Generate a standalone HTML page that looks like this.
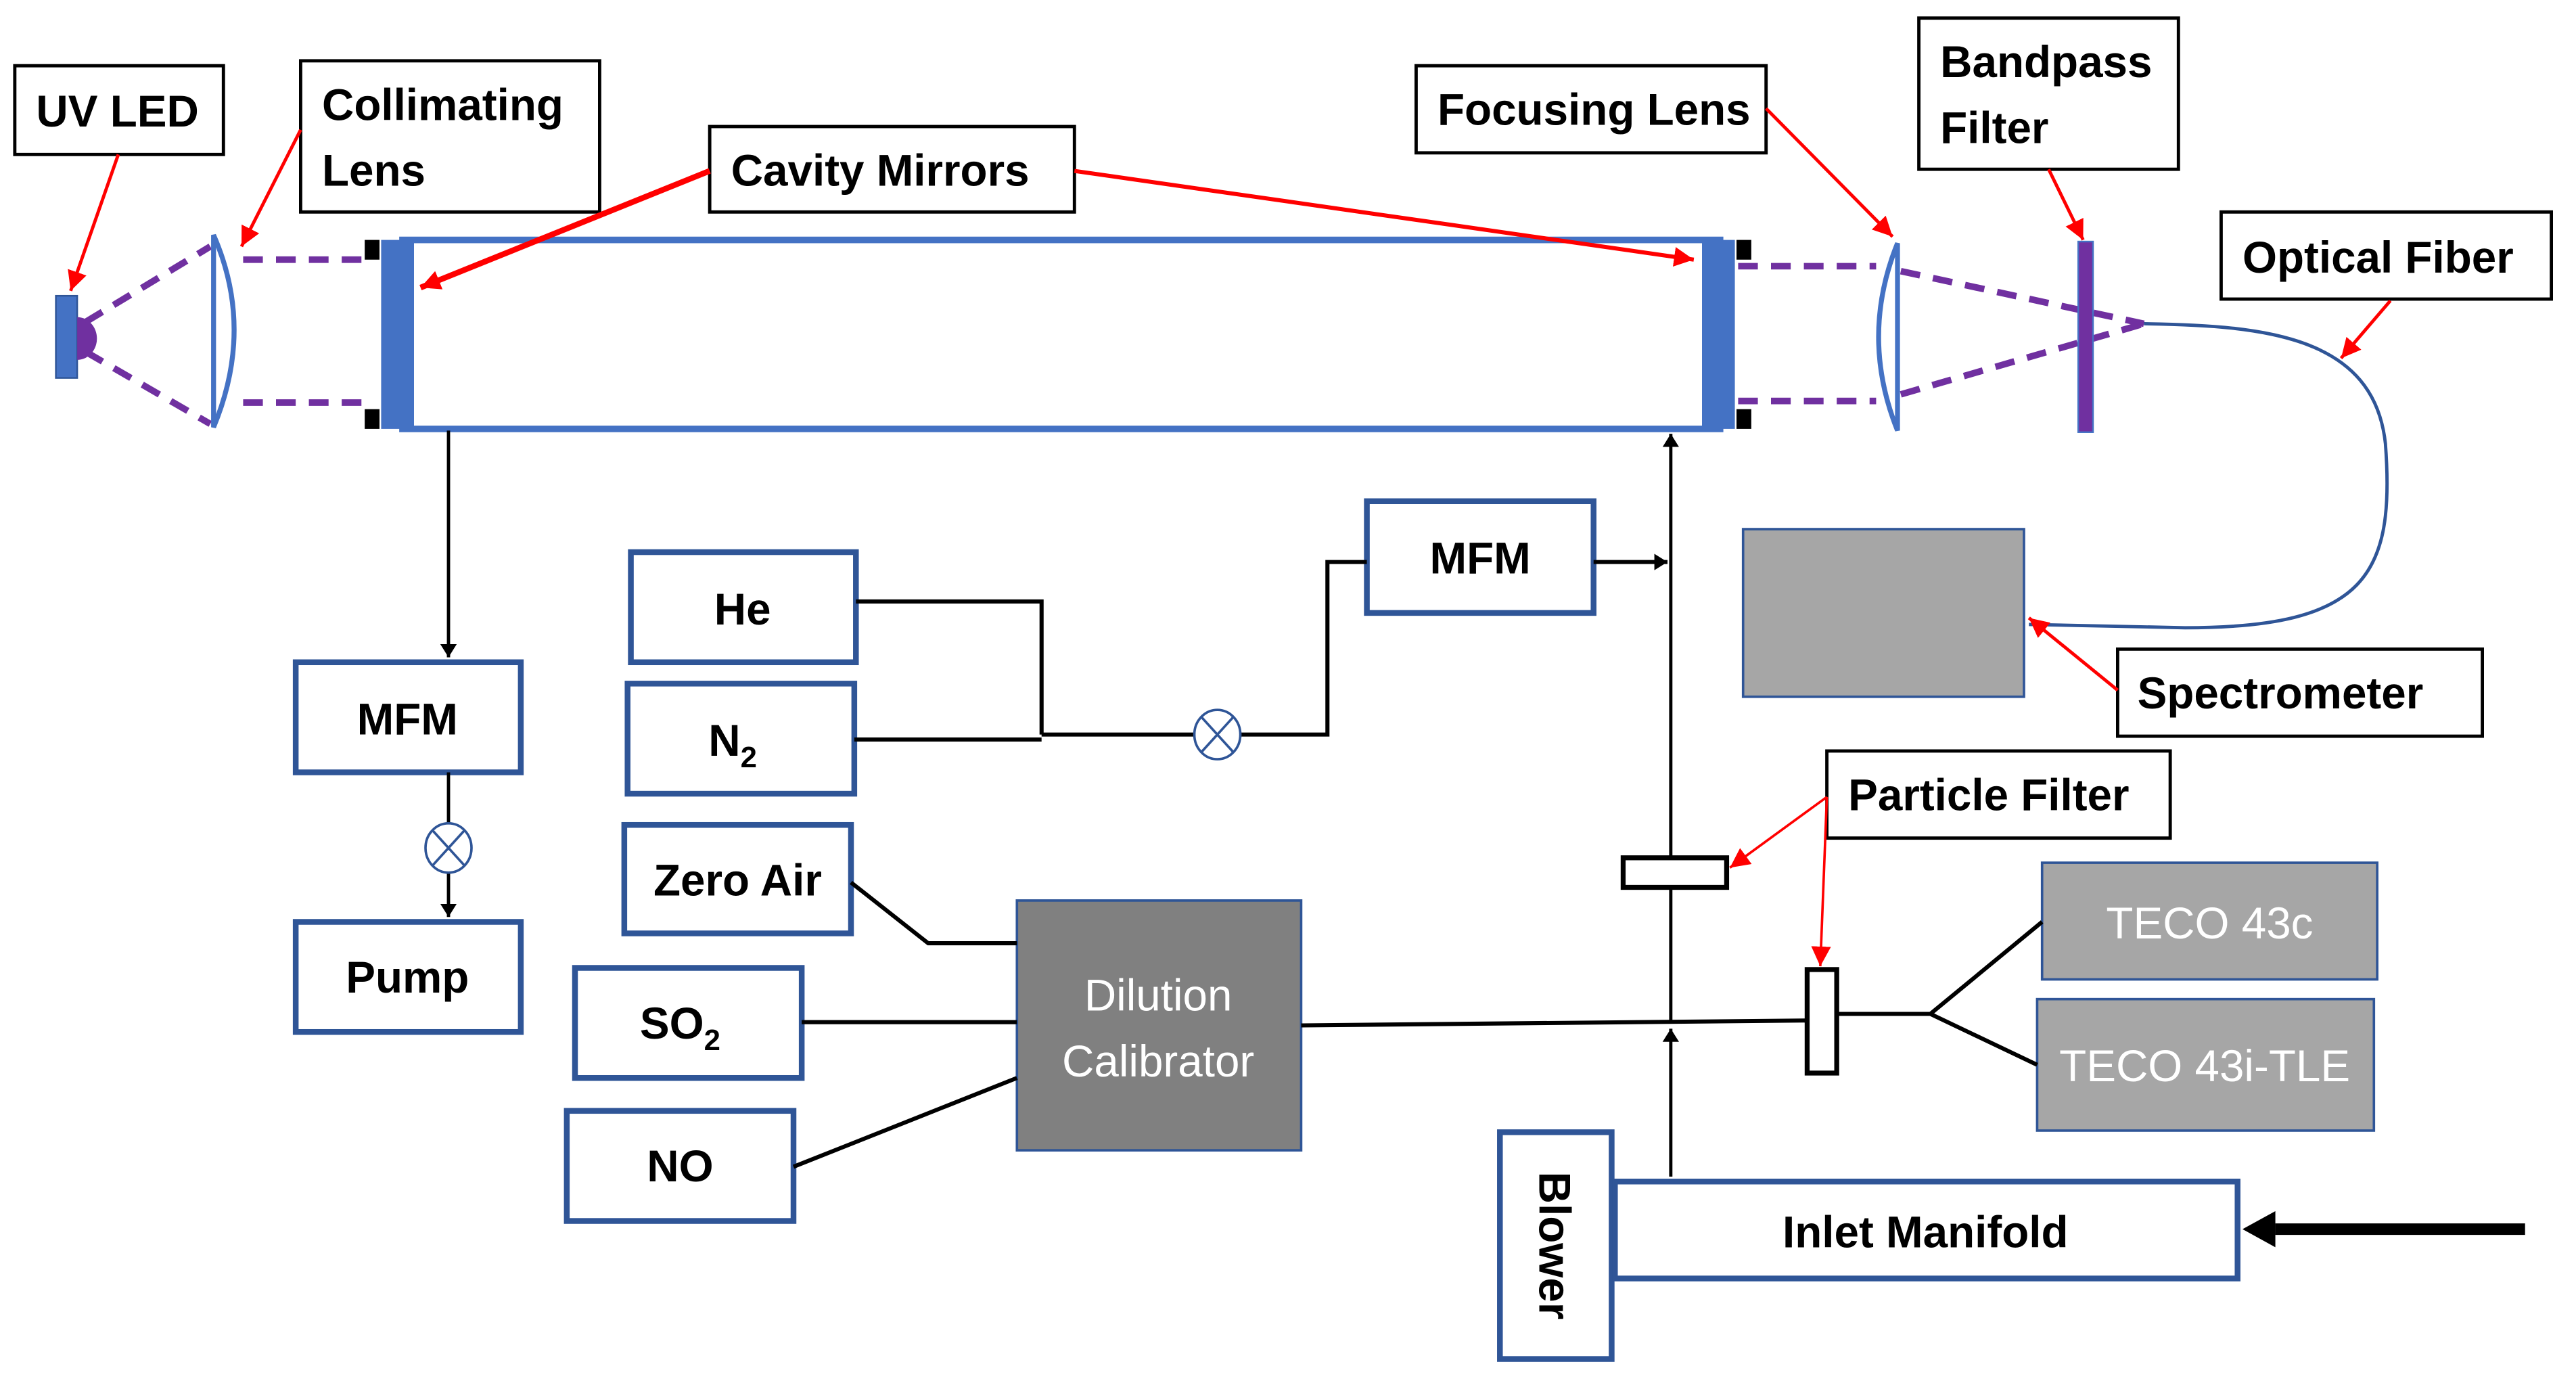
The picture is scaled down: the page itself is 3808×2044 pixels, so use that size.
<!DOCTYPE html>
<html><head><meta charset="utf-8"><style>html,body{margin:0;padding:0;background:#fff}svg{display:block}</style></head>
<body>
<svg width="3808" height="2044" viewBox="0 0 1568 841.6" preserveAspectRatio="none" xmlns="http://www.w3.org/2000/svg" font-family="Liberation Sans, sans-serif">
<defs>
<marker id="ar" markerWidth="6" markerHeight="6" refX="5" refY="3" orient="auto" markerUnits="userSpaceOnUse" viewBox="0 0 6 6"><path d="M0,0 L6,3 L0,6z" fill="red"/></marker>
<marker id="arb" markerWidth="12" markerHeight="12" refX="10" refY="5" orient="auto" markerUnits="userSpaceOnUse" viewBox="0 0 10 10"><path d="M0,0 L10,5 L0,10z" fill="red"/></marker>
<marker id="ak" markerWidth="8" markerHeight="10" refX="8" refY="5" orient="auto" markerUnits="userSpaceOnUse" viewBox="0 0 8 10"><path d="M0,0 L8,5 L0,10z" fill="#000"/></marker>
</defs>
<g fill="#fff" stroke="#000" stroke-width="2">
<rect x="9" y="40" width="127" height="54"/>
<rect x="183" y="37" width="182" height="92"/>
<rect x="432" y="77" width="222" height="52"/>
<rect x="862" y="40" width="213" height="53"/>
<rect x="1168" y="11" width="158" height="92"/>
<rect x="1352" y="129" width="201" height="53"/>
<rect x="1289" y="395" width="222" height="53"/>
<rect x="1112" y="457" width="209" height="53"/>
</g>
<g font-weight="bold" font-size="27" fill="#000">
<text x="22" y="77">UV LED</text>
<text x="196" y="73">Collimating</text><text x="196" y="113">Lens</text>
<text x="445" y="113">Cavity Mirrors</text>
<text x="875" y="76">Focusing Lens</text>
<text x="1181" y="47">Bandpass</text><text x="1181" y="87">Filter</text>
<text x="1365" y="166">Optical Fiber</text>
<text x="1301" y="431">Spectrometer</text>
<text x="1125" y="493">Particle Filter</text>
</g>
<!-- cavity -->
<rect x="245" y="146" width="802" height="115" fill="#fff" stroke="#4472c4" stroke-width="4"/>
<rect x="232" y="146" width="20" height="115" fill="#4472c4"/>
<rect x="1036" y="146" width="20" height="115" fill="#4472c4"/>
<g fill="#000"><rect x="222" y="146" width="9" height="12"/><rect x="222" y="249" width="9" height="12"/><rect x="1057" y="146" width="9" height="12"/><rect x="1057" y="249" width="9" height="12"/></g>
<!-- LED -->
<rect x="34" y="180" width="13" height="50" fill="#4472c4" stroke="#2f5597"/>
<path d="M47,193 A12,13 0 0 1 47,219 Z" fill="#7030a0"/>
<g stroke="#7030a0" stroke-width="4" stroke-dasharray="12,8" fill="none">
<path d="M52,196 L128,150"/><path d="M52,214 L128,258"/>
<path d="M148,158 L228,158"/><path d="M148,245 L228,245"/>
<path d="M1058,162 L1142,162"/><path d="M1058,244 L1142,244"/>
<path d="M1157,165 L1305,197"/><path d="M1157,240 L1305,197"/>
</g>
<path d="M130,143 Q155,200 130,260 Z" fill="#fff" stroke="#4472c4" stroke-width="3"/>
<path d="M1155,148 Q1132,205 1155,262 Z" fill="#fff" stroke="#4472c4" stroke-width="3"/>
<rect x="1265" y="147" width="9" height="116" fill="#7030a0" stroke="#4472c4"/>
<path d="M1305,197 C1380,198 1445,205 1452,270 C1458,350 1440,382 1330,382 L1235,380" fill="none" stroke="#2f5597" stroke-width="2"/>
<rect x="1061" y="322" width="171" height="102" fill="#a6a6a6" stroke="#2f5597" stroke-width="1.5"/>
<!-- flow boxes -->
<g fill="#fff" stroke="#2f5597" stroke-width="3.5">
<rect x="832" y="305" width="138" height="68"/>
<rect x="384" y="336" width="137" height="67"/>
<rect x="382" y="416" width="138" height="67"/>
<rect x="180" y="403" width="137" height="67"/>
<rect x="180" y="561" width="137" height="67"/>
<rect x="380" y="502" width="138" height="66"/>
<rect x="350" y="589" width="138" height="67"/>
<rect x="345" y="676" width="138" height="67"/>
<rect x="913" y="689" width="68" height="138"/>
<rect x="983" y="719" width="379" height="59"/>
</g>
<rect x="619" y="548" width="173" height="152" fill="#808080" stroke="#2f5597" stroke-width="1.5"/>
<rect x="1243" y="525" width="204" height="71" fill="#a6a6a6" stroke="#2f5597" stroke-width="1.5"/>
<rect x="1240" y="608" width="205" height="80" fill="#a6a6a6" stroke="#2f5597" stroke-width="1.5"/>
<g font-weight="bold" font-size="27" fill="#000" text-anchor="middle">
<text x="901" y="349">MFM</text>
<text x="452" y="380">He</text>
<text x="446" y="460">N<tspan font-size="18" dy="7">2</tspan></text>
<text x="248" y="447">MFM</text>
<text x="248" y="604">Pump</text>
<text x="449" y="545">Zero Air</text>
<text x="414" y="632">SO<tspan font-size="18" dy="7">2</tspan></text>
<text x="414" y="719">NO</text>
<text x="1172" y="759">Inlet Manifold</text>
<text transform="translate(937,758) rotate(90)">Blower</text>
</g>
<g font-size="27" fill="#fff" text-anchor="middle">
<text x="705" y="615">Dilution</text><text x="705" y="655">Calibrator</text>
<text x="1345" y="571">TECO 43c</text>
<text x="1342" y="658">TECO 43i-TLE</text>
</g>
<!-- lines -->
<g stroke="#000" stroke-width="2.5" fill="none">
<path d="M970,342 L1015,342" marker-end="url(#ak)"/>
<path d="M1017,716 L1017,626" marker-end="url(#ak)" stroke-width="2"/>
<path d="M1017,621 L1017,264" marker-end="url(#ak)" stroke-width="2"/>
<path d="M521,366 L634,366 L634,447"/>
<path d="M520,450 L634,450"/>
<path d="M634,447 L727,447"/><path d="M755,447 L808,447 L808,342 L832,342"/>
<path d="M273,262 L273,400" marker-end="url(#ak)" stroke-width="2"/>
<path d="M273,470 L273,502" stroke-width="2"/>
<path d="M273,530 L273,558" marker-end="url(#ak)" stroke-width="2"/>
<path d="M518,537 L565,574 L619,574"/>
<path d="M488,622 L619,622"/>
<path d="M483,710 L619,656"/>
<path d="M792,624 L1100,621"/>
<path d="M1118,617 L1175,617 L1243,561 M1175,617 L1240,648"/>
</g>
<rect x="988" y="522" width="63" height="18" fill="#fff" stroke="#000" stroke-width="3"/>
<rect x="1100" y="590" width="18" height="63" fill="#fff" stroke="#000" stroke-width="3"/>
<g fill="#fff" stroke="#2f5597" stroke-width="1.5">
<ellipse cx="741" cy="447" rx="14" ry="15"/><path d="M731,436 L751,458 M751,436 L731,458"/>
<ellipse cx="273" cy="516" rx="14" ry="15"/><path d="M263,505 L283,527 M283,505 L263,527"/>
</g>
<path d="M1537,748 L1385,748" stroke="#000" stroke-width="7"/>
<path d="M1365,748 L1385,737 L1385,759 Z" fill="#000"/>
<!-- red arrows -->
<g stroke="red" stroke-width="2" fill="none">
<path d="M72,94 L43,177" marker-end="url(#arb)"/>
<path d="M183,79 L147,150" marker-end="url(#arb)"/>
<path d="M432,104 L256,175" stroke-width="3.5" marker-end="url(#arb)"/>
<path d="M654,104 L1031,158" stroke-width="2.5" marker-end="url(#arb)"/>
<path d="M1075,66 L1152,144" marker-end="url(#arb)"/>
<path d="M1247,103 L1268,146" marker-end="url(#arb)"/>
<path d="M1455,183 L1425,218" marker-end="url(#arb)"/>
<path d="M1289,420 L1235,376" marker-end="url(#arb)"/>
<path d="M1112,485 L1053,528" stroke-width="1.5" marker-end="url(#arb)"/>
<path d="M1112,485 L1108,588" stroke-width="1.5" marker-end="url(#arb)"/>
</g>
</svg>
</body></html>
